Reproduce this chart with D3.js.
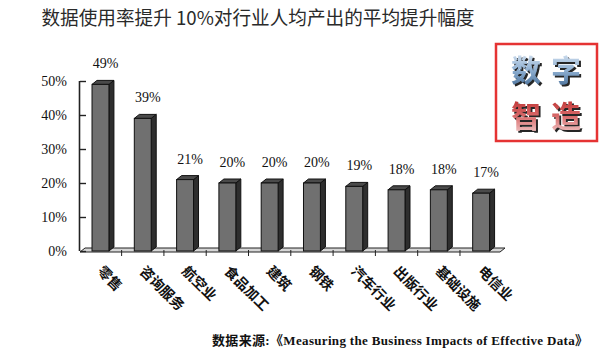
<!DOCTYPE html>
<html><head><meta charset="utf-8">
<script src="https://cdn.jsdelivr.net/npm/d3@7"></script>
<style>html,body{margin:0;padding:0;background:#fff;}svg{display:block;}</style>
</head><body>
<script>
const categories = ["零售","咨询服务","航空业","食品加工","建筑","钢铁","汽车行业","出版行业","基础设施","电信业"];
const values = [49,39,21,20,20,20,19,18,18,17];
const yTicks = [0,10,20,30,40,50];
const titleText = "数据使用率提升 10%对行业人均产出的平均提升幅度";
const sourceText = "数据来源:《Measuring the Business Impacts of Effective Data》";
const logoLines = ["数字","智造"];

const W = 600, H = 358;
const svg = d3.select("body").append("svg").attr("width", W).attr("height", H);

const defs = svg.append("defs");
const gb = defs.append("linearGradient").attr("id","gBlue").attr("x1",0).attr("y1",0).attr("x2",0).attr("y2",1);
gb.append("stop").attr("offset","0%").attr("stop-color","#eef4fb");
gb.append("stop").attr("offset","55%").attr("stop-color","#8fb0d2");
gb.append("stop").attr("offset","100%").attr("stop-color","#3d6590");
const gr = defs.append("linearGradient").attr("id","gRed").attr("x1",0).attr("y1",0).attr("x2",0).attr("y2",1);
gr.append("stop").attr("offset","0%").attr("stop-color","#b51c1c");
gr.append("stop").attr("offset","55%").attr("stop-color","#d86a6a");
gr.append("stop").attr("offset","100%").attr("stop-color","#f4d4d4");
const sh = defs.append("filter").attr("id","shadow").attr("x","-20%").attr("y","-20%").attr("width","150%").attr("height","150%");
sh.append("feDropShadow").attr("dx",2).attr("dy",2).attr("stdDeviation",0.6).attr("flood-color","#111").attr("flood-opacity",0.9);

// title
svg.append("text").attr("x", 258).attr("y", 25).attr("text-anchor","middle")
  .attr("textLength", 433).attr("lengthAdjust","spacingAndGlyphs")
  .style("font-family","'Noto Sans CJK SC', sans-serif").style("font-size","19px").style("fill","#2a2a2a")
  .text(titleText);

const x = d3.scaleBand().domain(categories).range([80, 501.6]).paddingInner(0.6).paddingOuter(0.284);
const y = d3.scaleLinear().domain([0,50]).range([251,81]);
const d = 5, dv = 4;

// floor
const fx0 = 80, fx1 = 500, fy = 252;
svg.append("path")
  .attr("d", `M${fx0},${fy} L${fx0+d},${fy-dv} L${fx1+d},${fy-dv} L${fx1},${fy} Z`)
  .attr("fill","#d6d6d6").attr("stroke","#222").attr("stroke-width",1);
const bounds = categories.slice(1).map(c => x(c) - x.step()*x.paddingInner()/2);
svg.append("g").selectAll("line").data(bounds).join("line")
  .attr("x1", b=>b).attr("x2", b=>b).attr("y1", fy-2).attr("y2", fy+4)
  .attr("stroke","#222").attr("stroke-width",1);

// y axis
const axis = d3.axisLeft(y).tickValues(yTicks).tickSize(-6).tickPadding(13).tickFormat(v => v + "%");
const ag = svg.append("g").attr("transform","translate(80,0)").call(axis);
ag.select(".domain").attr("stroke","#222").attr("stroke-width",1.6).attr("d","M-0.5,81V251");
ag.selectAll(".tick line").attr("stroke","#222").attr("stroke-width",1.4);
ag.selectAll(".tick text").style("font-family","'Liberation Serif', serif").style("font-size","14px").style("fill","#111");

// bars
const bw = x.bandwidth();
const bars = svg.append("g").selectAll("g").data(values).join("g");
bars.append("path")
  .attr("d", (v,i) => { const x0 = x(categories[i]) + bw, yt = y(v), yb = y(0);
    return `M${x0},${yt} L${x0+d},${yt-dv} L${x0+d},${yb-dv} L${x0},${yb} Z`; })
  .attr("fill","#2e2e2e").attr("stroke","#111").attr("stroke-width",1);
bars.append("path")
  .attr("d", (v,i) => { const x0 = x(categories[i]), yt = y(v);
    return `M${x0},${yt} L${x0+d},${yt-dv} L${x0+bw+d},${yt-dv} L${x0+bw},${yt} Z`; })
  .attr("fill","#4a4a4a").attr("stroke","#111").attr("stroke-width",1);
bars.append("rect")
  .attr("x", (v,i) => x(categories[i])).attr("y", v => y(v))
  .attr("width", bw).attr("height", v => y(0) - y(v))
  .attr("fill","#707070").attr("stroke","#111").attr("stroke-width",1);

// value labels
svg.append("g").selectAll("text").data(values).join("text")
  .attr("x", (v,i) => x(categories[i]) + bw/2 + 5)
  .attr("y", v => y(v) - 16)
  .attr("text-anchor","middle")
  .style("font-family","'Liberation Serif', serif").style("font-size","14px").style("fill","#111")
  .text(v => v + "%");

// category labels
svg.append("g").selectAll("text").data(categories).join("text")
  .attr("transform", c => `translate(${x(c) + bw/2 - 4},${272}) rotate(45)`)
  .style("font-family","'Noto Sans CJK SC', sans-serif").style("font-weight","700").style("font-size","14px").style("fill","#111")
  .text(c => c);

// source
svg.append("text").attr("x", 212).attr("y", 345)
  .attr("textLength", 376).attr("lengthAdjust","spacing")
  .style("font-family","'Liberation Serif','Noto Sans CJK SC', serif").style("font-weight","700").style("font-size","13px").style("fill","#111")
  .text(sourceText);

// logo
const lg = svg.append("g");
lg.append("rect").attr("x",496).attr("y",44).attr("width",101).attr("height",97)
  .attr("fill","#fff").attr("stroke","#e53333").attr("stroke-width",2.5);
const rows = [{t: logoLines[0], y: 81, f: "url(#gBlue)"}, {t: logoLines[1], y: 127, f: "url(#gRed)"}];
rows.forEach(r => {
  lg.append("text").attr("x", 551).attr("y", r.y).attr("text-anchor","middle")
    .attr("filter","url(#shadow)")
    .style("font-family","'Noto Sans CJK SC', sans-serif").style("font-weight","700").style("font-size","30px")
    .style("letter-spacing","10px")
    .style("fill", r.f).text(r.t);
});
</script>
</body></html>
